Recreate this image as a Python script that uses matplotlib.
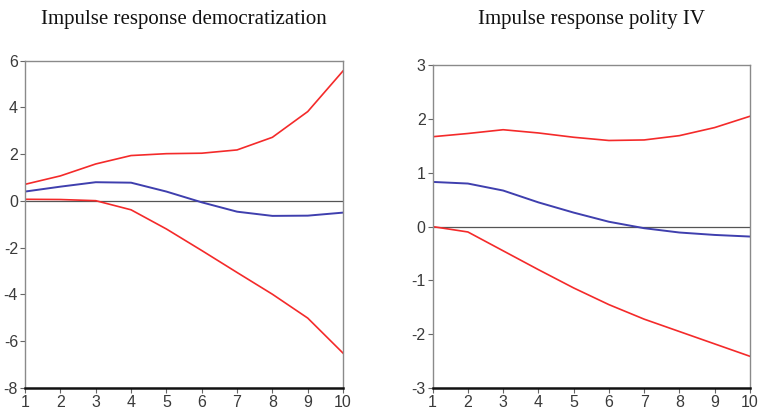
import matplotlib
matplotlib.use("Agg")
import matplotlib.pyplot as plt

periods = [1, 2, 3, 4, 5, 6, 7, 8, 9, 10]

# Left panel: Impulse response democratization
demo_resp = [0.40, 0.61, 0.80, 0.78, 0.40, -0.06, -0.46, -0.64, -0.63, -0.50]
demo_upper = [0.71, 1.07, 1.58, 1.94, 2.02, 2.04, 2.18, 2.72, 3.82, 5.56]
demo_lower = [0.07, 0.06, 0.01, -0.38, -1.20, -2.12, -3.06, -3.99, -5.01, -6.51]
demo_yticks = [6, 4, 2, 0, -2, -4, -6, -8]

# Right panel: Impulse response polity IV
pol_resp = [0.83, 0.80, 0.67, 0.45, 0.26, 0.09, -0.03, -0.11, -0.155, -0.185]
pol_upper = [1.67, 1.73, 1.80, 1.74, 1.66, 1.60, 1.61, 1.69, 1.84, 2.05]
pol_lower = [0.00, -0.10, -0.45, -0.80, -1.14, -1.45, -1.72, -1.95, -2.18, -2.41]
pol_yticks = [3, 2, 1, 0, -1, -2, -3]

titles = ["Impulse response democratization", "Impulse response polity IV"]

RED = "#f42a2a"
BLUE = "#3f3fae"

from matplotlib import font_manager
names = {f.name for f in font_manager.fontManager.ttflist}
tick_font = "Liberation Sans Narrow" if "Liberation Sans Narrow" in names else "Liberation Sans"

fig = plt.figure(figsize=(7.59, 4.15), dpi=100)
ax1 = fig.add_axes([0.033, 0.065, 0.419, 0.789])
ax2 = fig.add_axes([0.570, 0.065, 0.418, 0.778])

panels = [
    (ax1, demo_resp, demo_upper, demo_lower, demo_yticks, titles[0]),
    (ax2, pol_resp, pol_upper, pol_lower, pol_yticks, titles[1]),
]

for ax, resp, up, lo, yt, title in panels:
    ax.plot(periods, up, color=RED, lw=1.2)
    ax.plot(periods, lo, color=RED, lw=1.2)
    ax.plot(periods, resp, color=BLUE, lw=1.4)
    ax.axhline(0, color="#555555", lw=0.9, zorder=0)
    ax.set_xlim(1, 10)
    ax.set_ylim(min(yt), max(yt))
    ax.set_yticks(yt)
    ax.set_yticklabels([str(v) for v in yt])
    ax.set_xticks(periods)
    for s in ["left", "top", "right"]:
        ax.spines[s].set_color("#8a8a8a")
        ax.spines[s].set_linewidth(1.0)
    ax.spines["bottom"].set_color("#111111")
    ax.spines["bottom"].set_linewidth(1.8)
    ax.tick_params(axis="both", direction="out", length=3.5, width=0.8,
                   colors="#666666", labelsize=11.5, labelcolor="#3a3a3a", pad=1.5)
    for lab in ax.get_xticklabels() + ax.get_yticklabels():
        lab.set_family(tick_font)
    pos = ax.get_position()
    fig.text((pos.x0 + pos.x1) / 2, 0.952, title,
             ha="center", va="center", fontsize=15, family="Liberation Serif",
             color="#111111")

fig.savefig("out.png", dpi=100)
